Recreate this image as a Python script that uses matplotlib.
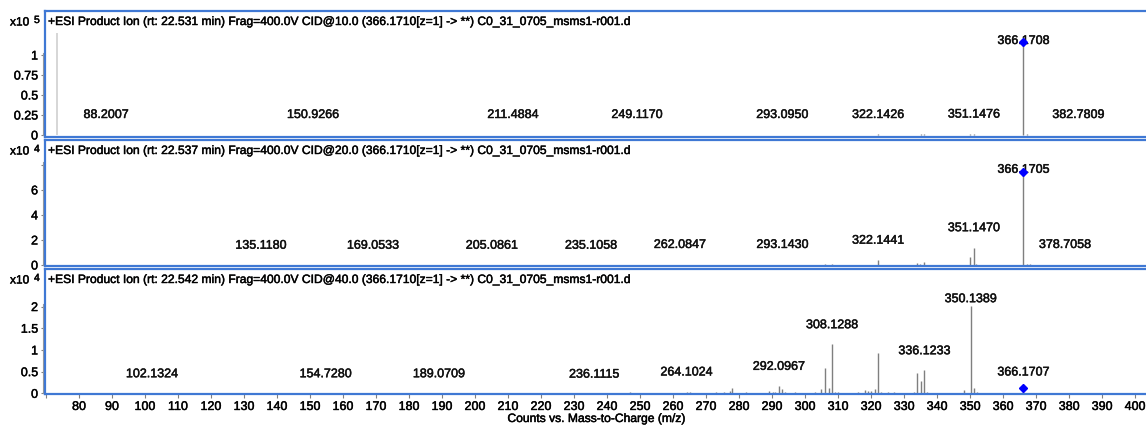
import matplotlib
matplotlib.use('Agg')
import matplotlib.pyplot as plt
import matplotlib.transforms as mtransforms
import matplotlib.patheffects as pe

plt.rcParams['font.family'] = ['Liberation Sans', 'DejaVu Sans']
# slightly heavier text, like the ClearType rendering of the original
heavy = [pe.withStroke(linewidth=0.35, foreground='#111111')]

# Spectrum headers
titles = [
    '+ESI Product Ion (rt: 22.531 min) Frag=400.0V CID@10.0 (366.1710[z=1] -> **) C0_31_0705_msms1-r001.d',
    '+ESI Product Ion (rt: 22.537 min) Frag=400.0V CID@20.0 (366.1710[z=1] -> **) C0_31_0705_msms1-r001.d',
    '+ESI Product Ion (rt: 22.542 min) Frag=400.0V CID@40.0 (366.1710[z=1] -> **) C0_31_0705_msms1-r001.d',
]
exponents = [5, 4, 4]
precursor = [366.1708, 366.1705, 366.1707]

# CID 10 eV
p1_mz = [88.2007, 150.9266, 211.4884, 249.1170, 293.0950, 322.1426, 335.0, 336.1,
         350.1, 351.1476, 366.1708, 367.2, 382.7809]
p1_int = [300, 200, 200, 200, 300, 1500, 1500, 1200, 1800, 1800, 116000, 1200, 300]
p1_lbl_mz = [88.2007, 150.9266, 211.4884, 249.1170, 293.0950, 322.1426, 351.1476, 366.1708, 382.7809]
p1_lbl_y = [25000, 25000, 25000, 25000, 25000, 25000, 25500, 117500, 25000]
p1_ghost_mz = [73.3]
p1_ghost_int = [127500]

# CID 20 eV
p2_mz = [135.1180, 166.0, 169.0533, 205.0861, 234.8, 241.4, 246.4, 262.0847, 293.1430, 306.1, 308.1,
         321.0, 322.1441, 334.0, 334.8, 336.1, 350.0, 351.1470, 351.8, 353.0, 355.0, 357.0,
         366.1705, 367.2, 368.2, 378.7058]
p2_int = [100, 300, 300, 100, 200, 200, 200, 150, 200, 400, 400,
          300, 4000, 1300, 600, 2000, 6600, 13400, 1000, 300, 200, 200,
          74600, 800, 700, 200]
p2_lbl_mz = [135.1180, 169.0533, 205.0861, 235.1058, 262.0847, 293.1430, 322.1441, 351.1470, 366.1705, 378.7058]
p2_lbl_y = [15400, 15400, 15400, 15400, 16000, 16000, 19400, 29400, 76000, 16000]

# CID 40 eV
p3_mz = [102.1324, 154.7280, 189.0709, 236.1115, 247.0, 248.0, 250.0, 260.0, 262.0, 264.1024, 265.0,
         270.0, 273.0, 275.5, 277.1, 278.0, 282.0, 289.0, 290.2, 291.0, 292.0967, 293.0, 294.0,
         297.0, 303.0, 304.8, 306.1, 307.2, 308.1288, 309.0, 310.0, 316.0, 318.1, 319.0, 320.1,
         321.1, 322.1, 323.0, 325.0, 327.0, 333.0, 334.0, 335.0, 336.1233, 337.0, 348.0,
         350.1389, 351.1, 352.0, 366.1707]
p3_int = [100, 100, 100, 150, 200, 150, 150, 150, 150, 250, 200,
          150, 200, 300, 600, 1200, 200, 500, 400, 300, 1700, 1000, 300,
          200, 300, 1000, 5900, 1300, 11300, 300, 200, 200, 800, 500, 500,
          1000, 9200, 300, 200, 200, 300, 4600, 2800, 5300, 300, 800,
          20200, 1200, 200, 1300]
p3_lbl_mz = [102.1324, 154.7280, 189.0709, 236.1115, 264.1024, 292.0967, 308.1288, 336.1233, 350.1389, 366.1707]
p3_lbl_y = [4400, 4400, 4400, 4300, 4800, 6100, 15700, 9700, 21700, 4800]

y_ticks = [[0, 0.25, 0.5, 0.75, 1], [0, 2, 4, 6, 8], [0, 0.5, 1, 1.5, 2]]
y_tick_labels = [['0', '0.25', '0.5', '0.75', '1'], ['0', '2', '4', '6', ''], ['0', '0.5', '1', '1.5', '2']]
y_limits = [(-0.025, 1.55), (-0.08, 9.98), (-0.016, 2.865)]
x_ticks = list(range(70, 401, 10))

W, H = 1146, 425
fig = plt.figure(figsize=(W / 100, H / 100), dpi=100)

# panel boxes in pixels (top, bottom)
boxes = [(11, 137), (140, 266), (269, 394)]
left_px, right_px = 45, 1150

peaks = [(p1_mz, p1_int), (p2_mz, p2_int), (p3_mz, p3_int)]
labels = [(p1_lbl_mz, p1_lbl_y), (p2_lbl_mz, p2_lbl_y), (p3_lbl_mz, p3_lbl_y)]
blue = '#3f78d4'

for i in range(3):
    top, bot = boxes[i]
    ax = fig.add_axes([left_px / W, 1 - bot / H, (right_px - left_px) / W, (bot - top) / H])
    scale = 10 ** exponents[i]
    mz, inten = peaks[i]
    ax.vlines(mz, 0, [v / scale for v in inten], color='#7f7f7f', lw=1.0)
    if i == 0:
        ax.vlines(p1_ghost_mz, 0, [v / scale for v in p1_ghost_int], color='#cfcfcf', lw=1.2)
    pi = mz.index(precursor[i])
    ax.plot([precursor[i]], [inten[pi] / scale], marker='D', ms=3.6, color='#0000ff', zorder=5)
    for lx, ly in zip(*labels[i]):
        ax.text(lx, ly / scale, f'{lx:.4f}', ha='center', va='center', fontsize=9,
                color='#111111', path_effects=heavy)
    ax.set_xlim(69.7, 404.5)
    ax.set_ylim(*y_limits[i])
    ax.set_yticks(y_ticks[i])
    ax.set_yticklabels(y_tick_labels[i])
    ax.tick_params(axis='y', direction='out', length=3, width=0.8, color='#808080',
                   labelsize=9, pad=2)
    for s in ax.spines.values():
        s.set_color(blue)
        s.set_linewidth(1.6)
    # grey y axis line just outside the box
    trans = mtransforms.blended_transform_factory(ax.transAxes, ax.transData)
    ax.plot([-0.002, -0.002], [0, y_ticks[i][-1] + (y_ticks[i][1] - y_ticks[i][0]) * 0.1],
            transform=trans, color='#9a9a9a', lw=0.8, clip_on=False)
    if i < 2:
        ax.set_xticks([])
    else:
        ax.set_xticks(x_ticks)
        ax.set_xticklabels(['' if t == 70 else str(t) for t in x_ticks])
        ax.tick_params(axis='x', direction='out', length=3, width=0.8, color='#808080',
                       labelsize=9, pad=2)
    for t in ax.get_xticklabels() + ax.get_yticklabels():
        t.set_path_effects(heavy)
    fig.text(48 / W, 1 - (top + 11) / H, titles[i], fontsize=8.7, ha='left', va='center',
             path_effects=heavy)
    fig.text(10 / W, 1 - (top + 11.5) / H, 'x10', fontsize=8.6, ha='left', va='center',
             path_effects=heavy)
    fig.text(34 / W, 1 - (top + 9) / H, str(exponents[i]), fontsize=7.5, ha='left', va='center',
             path_effects=heavy)

fig.text(597 / W, 1 - 419 / H, 'Counts vs. Mass-to-Charge (m/z)', fontsize=8.7, ha='center',
         va='center', path_effects=heavy)

fig.savefig('out.png', dpi=100)
